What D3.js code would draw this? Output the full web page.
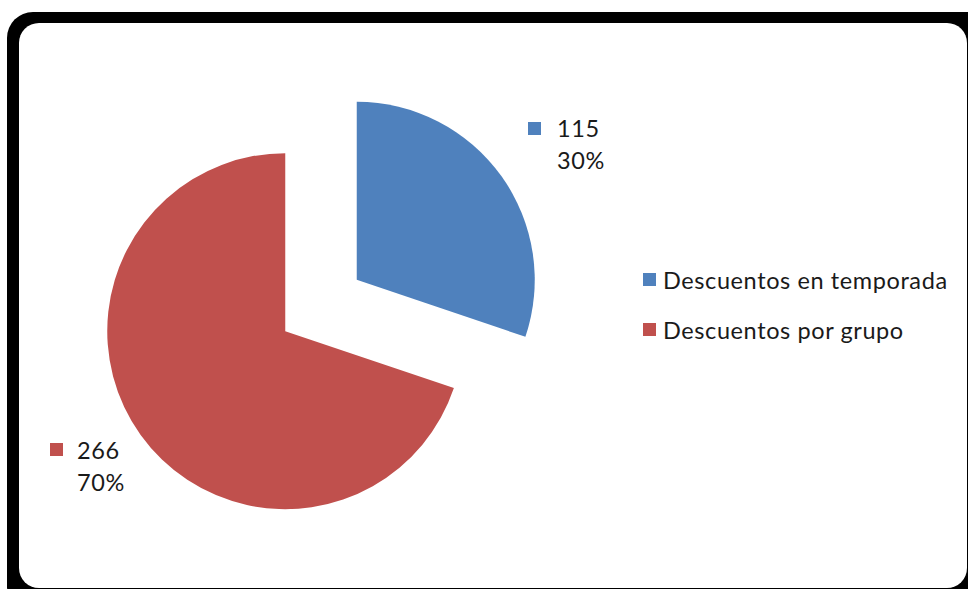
<!DOCTYPE html>
<html>
<head>
<meta charset="utf-8">
<script src="https://cdn.jsdelivr.net/npm/d3@7"></script>
<style>
  html, body { margin: 0; padding: 0; background: #fff; }
  svg { display: block; }
  text { font-family: Lato, "Open Sans", sans-serif; fill: #1a1a1a; letter-spacing: 0.6px; }
</style>
</head>
<body>
<svg id="chart" width="968" height="589"></svg>
<script>
// Discount types and their counts
const categories = ["Descuentos en temporada", "Descuentos por grupo"];
const values = [115, 266];
const colors = ["#4F81BD", "#C0504D"];

const svg = d3.select("#chart");

// Frame: black rounded border with white rounded panel
svg.append("rect").attr("x", 7).attr("y", 12).attr("width", 985).attr("height", 600)
  .attr("rx", 26).attr("fill", "#000");
svg.append("rect").attr("x", 19).attr("y", 23).attr("width", 948).attr("height", 565)
  .attr("rx", 20).attr("fill", "#fff");

const total = d3.sum(values);
const pct = d3.format(".0%");

const cx = 321, cy = 305.5, r = 178, explode = 44;

const pie = d3.pie().sort(null).value(d => d)(values);
const arc = d3.arc().innerRadius(0).outerRadius(r);

const g = svg.append("g").attr("transform", `translate(${cx},${cy})`);
g.selectAll("path").data(pie).join("path")
  .attr("d", arc)
  .attr("fill", (d, i) => colors[i])
  .attr("transform", d => {
    const a = (d.startAngle + d.endAngle) / 2;
    return `translate(${Math.sin(a) * explode},${-Math.cos(a) * explode})`;
  });

// Data labels: marker, value, percentage
const labelPos = [
  { sx: 528, sy: 122, tx: 557, ty: 137 },
  { sx: 50, sy: 443, tx: 77, ty: 459 }
];
const fs = 23.5;
pie.forEach((d, i) => {
  const p = labelPos[i];
  svg.append("rect").attr("x", p.sx).attr("y", p.sy).attr("width", 13).attr("height", 13)
    .attr("fill", colors[i]);
  const t = svg.append("text").attr("x", p.tx).attr("y", p.ty).attr("font-size", fs);
  t.append("tspan").attr("x", p.tx).text(values[i]);
  t.append("tspan").attr("x", p.tx).attr("dy", 32).text(pct(values[i] / total));
});

// Legend
const legend = svg.append("g").attr("transform", "translate(643,273)");
categories.forEach((c, i) => {
  const row = legend.append("g").attr("transform", `translate(0,${i * 50})`);
  row.append("rect").attr("width", 13).attr("height", 13).attr("fill", colors[i]);
  row.append("text").attr("x", 20).attr("y", 15.5).attr("font-size", fs).text(c);
});
</script>
</body>
</html>
